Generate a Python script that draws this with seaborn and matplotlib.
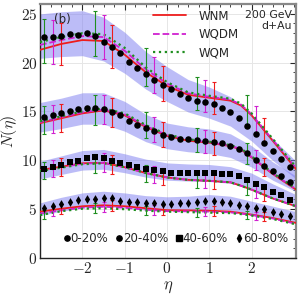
import numpy as np
import pandas as pd
import seaborn as sns
import matplotlib
matplotlib.use("Agg")
import matplotlib.pyplot as plt
from matplotlib.ticker import MultipleLocator, FixedLocator, FuncFormatter
from matplotlib.lines import Line2D

# ---------------- data ----------------
centralities = ["0-20%", "20-40%", "40-60%", "60-80%"]
markers = ["o", "o", "s", "d"]

eta_data = [-2.9, -2.7, -2.5, -2.3, -2.1, -1.9, -1.7, -1.5, -1.3, -1.1,
            -0.9, -0.7, -0.5, -0.3, -0.1, 0.1, 0.3, 0.5, 0.7, 0.9,
            1.1, 1.3, 1.5, 1.7, 1.9, 2.1, 2.3, 2.5, 2.7, 2.9]

dn_0_20 = [22.6, 22.6, 22.75, 22.9, 22.85, 23.0, 22.7, 22.1, 21.6, 21.0,
           20.1, 19.4, 18.8, 18.2, 17.7, 17.3, 16.8, 16.4, 16.1, 15.95,
           15.75, 15.3, 14.9, 14.3, 13.5, 12.7, 11.8, 11.0, 10.1, 9.3]
dn_20_40 = [14.4, 14.6, 14.8, 15.05, 15.25, 15.4, 15.4, 15.25, 14.9, 14.6,
            14.05, 13.6, 13.3, 12.95, 12.6, 12.35, 12.2, 12.15, 12.1, 12.0,
            11.9, 11.75, 11.5, 11.15, 10.7, 10.0, 9.45, 8.9, 8.35, 7.8]
dn_40_60 = [9.1, 9.3, 9.5, 9.8, 9.95, 10.2, 10.3, 10.2, 9.95, 9.75,
            9.5, 9.35, 9.1, 9.0, 8.9, 8.75, 8.75, 8.75, 8.7, 8.75,
            8.7, 8.6, 8.6, 8.4, 8.0, 7.6, 7.25, 6.8, 6.45, 5.95]
dn_60_80 = [5.1, 5.35, 5.55, 5.75, 5.95, 6.05, 6.05, 6.1, 6.1, 5.85,
            5.75, 5.7, 5.65, 5.6, 5.55, 5.55, 5.6, 5.65, 5.7, 5.8,
            5.8, 5.75, 5.6, 5.45, 5.3, 5.15, 5.0, 4.75, 4.55, 4.3]

# systematic band (centre) and relative width
eta_band = [-3.0, -2.5, -2.0, -1.5, -1.0, -0.5, 0.0, 0.5, 1.0, 1.5, 2.0, 2.5, 3.05]
band_0_20 = [22.7, 22.9, 23.0, 22.4, 21.0, 19.2, 17.8, 16.6, 15.9, 15.0, 13.3, 11.1, 9.0]
band_20_40 = [14.4, 14.8, 15.3, 15.3, 14.5, 13.3, 12.5, 12.15, 11.95, 11.5, 10.4, 8.9, 7.6]
band_40_60 = [9.0, 9.5, 10.0, 10.1, 9.7, 9.2, 8.85, 8.75, 8.7, 8.5, 7.9, 6.9, 5.9]
band_60_80 = [5.0, 5.5, 5.9, 6.05, 5.9, 5.65, 5.55, 5.6, 5.75, 5.6, 5.15, 4.7, 4.2]
band_rel = [0.10, 0.105, 0.10, 0.13]

# model curves
eta_model = [-3.0, -2.5, -2.0, -1.5, -1.0, -0.5, 0.0, 0.5, 1.0, 1.5, 1.75, 2.0, 2.5, 3.05]
wnm_0_20 = [21.3, 21.9, 22.3, 22.2, 20.8, 19.0, 17.6, 16.7, 16.4, 16.1, 15.6, 14.6, 12.0, 9.1]
wqdm_0_20 = [21.8, 22.3, 22.7, 22.6, 21.2, 19.3, 17.85, 16.85, 16.5, 16.2, 15.7, 14.7, 12.1, 9.2]
wqm_0_20 = [22.1, 22.6, 23.0, 22.9, 21.5, 19.5, 18.0, 16.95, 16.6, 16.3, 15.8, 14.8, 12.2, 9.3]

wnm_20_40 = [13.8, 14.3, 14.8, 15.1, 14.6, 13.4, 12.5, 12.0, 11.8, 11.45, 11.1, 10.3, 8.6, 7.0]
wqdm_20_40 = [13.9, 14.4, 14.9, 15.2, 14.7, 13.5, 12.6, 12.1, 11.85, 11.5, 11.15, 10.35, 8.65, 7.05]
wqm_20_40 = [14.0, 14.5, 15.0, 15.3, 14.8, 13.6, 12.65, 12.15, 11.9, 11.55, 11.2, 10.4, 8.7, 7.1]

wnm_40_60 = [9.0, 9.35, 9.7, 9.75, 9.3, 8.7, 8.25, 8.0, 7.9, 7.75, 7.4, 7.0, 6.1, 5.3]
wqdm_40_60 = [8.95, 9.3, 9.65, 9.75, 9.3, 8.7, 8.25, 8.0, 7.9, 7.75, 7.4, 7.0, 6.1, 5.3]
wqm_40_60 = [8.9, 9.25, 9.6, 9.7, 9.3, 8.7, 8.25, 8.0, 7.9, 7.75, 7.4, 7.0, 6.1, 5.3]

wnm_60_80 = [4.75, 5.05, 5.3, 5.4, 5.3, 5.1, 4.9, 4.88, 4.85, 4.75, 4.6, 4.45, 4.1, 3.6]
wqdm_60_80 = [4.55, 4.9, 5.15, 5.25, 5.15, 4.95, 4.8, 4.78, 4.75, 4.67, 4.55, 4.4, 4.05, 3.5]
wqm_60_80 = [4.4, 4.8, 5.05, 5.1, 5.0, 4.85, 4.75, 4.7, 4.65, 4.6, 4.5, 4.35, 4.0, 3.45]

# positions of model uncertainty bars
eta_err_wqm = [-2.9, -1.7, -0.5, 0.7, 1.9]
eta_err_wqdm = [-2.7, -1.5, -0.3, 0.9, 2.1]
eta_err_wnm = [-2.5, -1.3, -0.1, 1.1, 2.3]
model_err_rel = 0.10

x_ticks = [-2, -1, 0, 1, 2]
y_ticks = [0, 5, 10, 15, 20, 25]

model_names = ["WNM", "WQDM", "WQM"]
model_colors = {"WNM": "#ee1c1c", "WQDM": "#d020d0", "WQM": "#1f8f1f"}
model_dash = {"WNM": "-", "WQDM": "--", "WQM": ":"}

data_sets = [dn_0_20, dn_20_40, dn_40_60, dn_60_80]
band_sets = [band_0_20, band_20_40, band_40_60, band_60_80]
model_sets = {
    "WNM": [wnm_0_20, wnm_20_40, wnm_40_60, wnm_60_80],
    "WQDM": [wqdm_0_20, wqdm_20_40, wqdm_40_60, wqdm_60_80],
    "WQM": [wqm_0_20, wqm_20_40, wqm_40_60, wqm_60_80],
}
err_pos = {"WNM": eta_err_wnm, "WQDM": eta_err_wqdm, "WQM": eta_err_wqm}

# ---------------- figure ----------------
sns.set_theme(style="white")
plt.rcParams["font.family"] = ["DejaVu Sans"]
plt.rcParams["mathtext.fontset"] = "cm"

fig = plt.figure(figsize=(2.99, 2.97), dpi=100)
ax = fig.add_axes([0.134, 0.131, 0.856, 0.856])

# bands
for c, b, r in zip(centralities, band_sets, band_rel):
    b = np.asarray(b)
    ax.fill_between(eta_band, b * (1 - r), b * (1 + r), color="#7b7bf0",
                    alpha=0.5, lw=0, zorder=1)

# model curves
rows = []
for m in model_names:
    for c, vals in zip(centralities, model_sets[m]):
        for e, v in zip(eta_model, vals):
            rows.append({"eta": e, "N": v, "model": m, "cent": c})
dfm = pd.DataFrame(rows)
for m in model_names:
    for c in centralities:
        sub = dfm[(dfm.model == m) & (dfm.cent == c)]
        sns.lineplot(data=sub, x="eta", y="N", ax=ax, color=model_colors[m],
                     linestyle=model_dash[m], lw=1.3 if m != "WQM" else 1.6,
                     sort=False, zorder=3, legend=False)

# model uncertainty bars
for m in model_names:
    for vals in model_sets[m]:
        ex = np.asarray(err_pos[m])
        ey = np.interp(ex, eta_model, vals)
        ax.errorbar(ex, ey, yerr=model_err_rel * ey, fmt="none",
                    ecolor=model_colors[m], elinewidth=0.8, capsize=1.6,
                    capthick=0.8, zorder=4)

# data points
rows = []
for c, vals in zip(centralities, data_sets):
    for e, v in zip(eta_data, vals):
        rows.append({"eta": e, "N": v, "cent": c})
dfd = pd.DataFrame(rows)
for c, mk in zip(centralities, markers):
    sub = dfd[dfd.cent == c]
    sns.scatterplot(data=sub, x="eta", y="N", ax=ax, marker=mk, color="black",
                    s=22 if mk != "d" else 20, edgecolor="black", linewidth=0,
                    zorder=5, legend=False)

# axes styling
ax.set_xlim(-3.0, 3.05)
ax.set_ylim(0, 26)
ax.xaxis.set_major_locator(FixedLocator(x_ticks))
ax.xaxis.set_minor_locator(MultipleLocator(0.25))
ax.yaxis.set_major_locator(FixedLocator(y_ticks))
ax.yaxis.set_minor_locator(MultipleLocator(1))
fmt = FuncFormatter(lambda v, p: r"$%d$" % round(v))
ax.xaxis.set_major_formatter(fmt)
ax.yaxis.set_major_formatter(fmt)
ax.tick_params(which="both", direction="in", top=True, right=True,
               labelsize=11, pad=2)
ax.tick_params(which="major", length=4, width=0.8)
ax.tick_params(which="minor", length=2, width=0.6)
ax.grid(True, which="major", color="#e6e6e6", lw=0.7, zorder=0)
for s in ["left", "bottom"]:
    ax.spines[s].set_color("#222222")
    ax.spines[s].set_linewidth(1.0)
for s in ["top", "right"]:
    ax.spines[s].set_color("#888888")
    ax.spines[s].set_linewidth(1.6)

ax.set_xlabel(r"$\eta$", fontsize=12, labelpad=1)
ax.set_ylabel(r"$N(\eta)$", fontsize=11.5, labelpad=0)
ax.yaxis.set_label_coords(-0.083, 0.5)

ax.text(0.055, 0.965, "(b)", transform=ax.transAxes, fontsize=8.5,
        va="top", ha="left")
ax.text(0.983, 0.975, "200 GeV\nd+Au", transform=ax.transAxes, fontsize=7.8,
        va="top", ha="right", multialignment="right", linespacing=1.15)

# model legend
mh = [Line2D([], [], color=model_colors[m], linestyle=model_dash[m],
             lw=1.3 if m != "WQM" else 1.6) for m in model_names]
leg1 = ax.legend(mh, model_names, loc="upper left", bbox_to_anchor=(0.41, 1.01),
                 frameon=False, fontsize=8.5, handlelength=2.8,
                 handletextpad=1.0, labelspacing=0.45, borderpad=0.2)
ax.add_artist(leg1)

# centrality legend
dh = [Line2D([], [], marker=mk, color="black", linestyle="none",
             markersize=3.8) for mk in markers]
ax.legend(dh, centralities, loc="lower center", bbox_to_anchor=(0.53, 0.025),
          ncol=4, frameon=False, fontsize=8.5, handlelength=0.5,
          handletextpad=0.05, columnspacing=0.7, borderpad=0.1)

fig.savefig("out.png", dpi=100)
